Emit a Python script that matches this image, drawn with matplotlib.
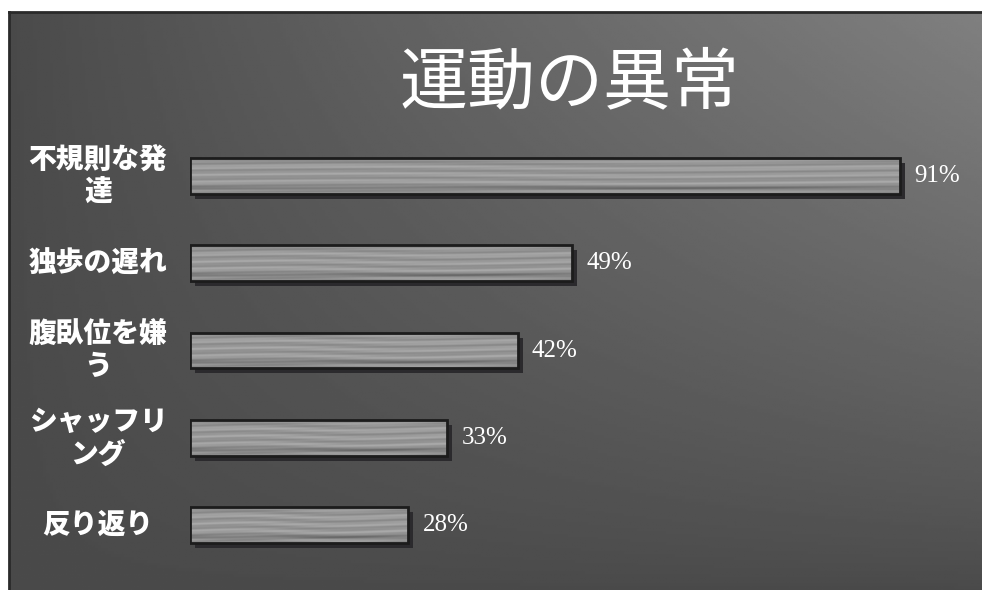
import numpy as np
import matplotlib
matplotlib.use("Agg")
import matplotlib.pyplot as plt
from matplotlib.transforms import ScaledTranslation

plt.rcParams["font.family"] = ["Noto Sans CJK JP", "DejaVu Sans"]

title = "運動の異常"
categories = ["不規則な発\n達", "独歩の遅れ", "腹臥位を嫌\nう", "シャッフリ\nング", "反り返り"]
values = [91, 49, 42, 33, 28]
value_labels = ["91%", "49%", "42%", "33%", "28%"]

W, H = 982, 590
fig = plt.figure(figsize=(W / 100, H / 100), dpi=100)
fig.patch.set_facecolor("white")

# background panel with diagonal gray gradient
bg = fig.add_axes([9 / W, 0, 1 - 9 / W, 1 - 12 / H])
gx, gy = np.meshgrid(np.linspace(0, 1, 300), np.linspace(0, 1, 200))
light = 0.29 + 0.21 * gx ** 0.9 * (1 - gy) ** 0.8
bg.imshow(light, cmap="gray", vmin=0, vmax=1, aspect="auto", extent=[0, 1, 1, 0])
bg.set_xlim(0, 1)
bg.set_ylim(1, 0)
bg.set_xticks([])
bg.set_yticks([])
for side in ["right", "bottom"]:
    bg.spines[side].set_visible(False)
for side in ["top", "left"]:
    bg.spines[side].set_color("#2a2a2a")
    bg.spines[side].set_linewidth(2)

fig.text(570 / W, 1 - 84 / H, title, color="white", fontsize=49,
         ha="center", va="center")

# main bar axes
ax = fig.add_axes([190 / W, 1 - 568.6 / H, 780 / W, 436.2 / H])

y = np.arange(len(categories))
bar_h = 0.41

# soft streaky texture for bar fill (deterministic)
tx, ty = np.meshgrid(np.linspace(0, 1, 400), np.linspace(0, 1, 60))
tex = (0.60 + 0.05 * np.sin(ty * 30 + np.sin(tx * 7) * 1.2)
       + 0.025 * np.sin(ty * 70 + tx * 12)
       - 0.14 * np.exp(-((ty - 0.85) / 0.06) ** 2)
       - 0.06 * np.exp(-((ty - 0.05) / 0.05) ** 2))

shadow = ScaledTranslation(5 / 100, -5 / 100, fig.dpi_scale_trans)
bars_sh = ax.barh(y, values, height=bar_h, color="#2b2a2d", edgecolor="none", zorder=1)
for p in bars_sh:
    p.set_transform(ax.transData + shadow)

bars = ax.barh(y, values, height=bar_h, facecolor="none", edgecolor="#1c1c1c",
               linewidth=2, zorder=3)
for p, v, yi in zip(bars, values, y):
    im = ax.imshow(tex, cmap="gray", vmin=0, vmax=1, aspect="auto",
                   extent=[0, v, yi + bar_h / 2, yi - bar_h / 2], zorder=2,
                   interpolation="bilinear")
    im.set_clip_path(p)
ax.set_xlim(0, 100)
ax.set_ylim(4.5, -0.5)
ax.axis("off")

for yi, v, lab in zip(y, values, value_labels):
    ax.annotate(lab, (v, yi), xytext=(14, 0), textcoords="offset pixels",
                color="white", fontsize=18, family="Liberation Serif",
                ha="left", va="center")

for yi, cat in zip(y, categories):
    ax.annotate(cat, (0, yi), xytext=(-92, 0), textcoords="offset pixels",
                color="white", fontsize=20, fontweight="heavy",
                ha="center", va="center", linespacing=1.2, annotation_clip=False)

fig.savefig("out.png", dpi=100, facecolor=fig.get_facecolor())
